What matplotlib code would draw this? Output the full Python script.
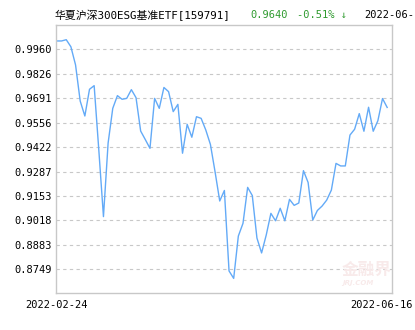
#!/usr/bin/env python3
# -*- coding: utf-8 -*-

import matplotlib
matplotlib.use('Agg')
import matplotlib.pyplot as plt
import matplotlib.transforms as mtransforms

plt.rcParams['font.family'] = ['DejaVu Sans Mono', 'Noto Sans CJK SC']

fund_name = '华夏沪深300ESG基准ETF[159791]'
last_price = '0.9640'
last_change = '-0.51% ↓'
last_date = '2022-06-1'
date_labels = ['2022-02-24', '2022-06-16']

# net value per trading day
nav = [1.0006, 1.0006, 1.0013, 0.9974, 0.9874, 0.9675, 0.9593, 0.9740,
       0.9760, 0.9406, 0.9039, 0.9444, 0.9635, 0.9705, 0.9685, 0.9690,
       0.9738, 0.9694, 0.9510, 0.9463, 0.9415, 0.9690, 0.9635, 0.9750,
       0.9727, 0.9617, 0.9657, 0.9388, 0.9547, 0.9476, 0.9589, 0.9580,
       0.9516, 0.9436, 0.9285, 0.9125, 0.9183, 0.8740, 0.8699, 0.8932,
       0.9002, 0.9200, 0.9155, 0.8921, 0.8839, 0.8938, 0.9057, 0.9016,
       0.9085, 0.9016, 0.9134, 0.9101, 0.9114, 0.9292, 0.9227, 0.9020,
       0.9073, 0.9097, 0.9130, 0.9185, 0.9332, 0.9318, 0.9318, 0.9488,
       0.9520, 0.9606, 0.9509, 0.9641, 0.9509, 0.9567, 0.9689, 0.9640]

y_ticks = [0.9960, 0.9826, 0.9691, 0.9556, 0.9422, 0.9287, 0.9153,
           0.9018, 0.8883, 0.8749]

fig = plt.figure(figsize=(4.15, 3.3), dpi=100)
ax = fig.add_axes([0.1361, 0.1121, 0.8085, 0.8121])

ax.plot(range(len(nav)), nav, color='#63aaf7', linewidth=1.0)

ax.set_xlim(-0.1, len(nav) - 1 + 1.04)
ax.set_ylim(0.86185, 1.00938)

ax.set_yticks(y_ticks)
ax.set_yticklabels(['{:.4f}'.format(v) for v in y_ticks])
ax.set_xticks([0, len(nav) - 1])
ax.set_xticklabels(date_labels)
ax.tick_params(length=0, labelsize=7.5, colors='black', pad=3)
ax.tick_params(axis='x', pad=5)

# last date label sits a bit to the left, like the original
shift = mtransforms.ScaledTranslation(-6 / 100, 0, fig.dpi_scale_trans)
lbl = ax.get_xticklabels()[-1]
lbl.set_transform(lbl.get_transform() + shift)

ax.grid(axis='y', color='#c8c8c8', linestyle=(0, (3, 3)), linewidth=0.8)
ax.grid(axis='x', visible=False)
for sp in ax.spines.values():
    sp.set_color('#c8c8c8')
    sp.set_linewidth(1.0)

# header line
fig.text(55 / 415, 1 - 15 / 330, fund_name, fontsize=7.8, va='center', ha='left', color='black')
fig.text(250 / 415, 1 - 15 / 330, last_price, fontsize=7.5, va='center', ha='left', color='#2e9a2e')
fig.text(297 / 415, 1 - 15 / 330, last_change, fontsize=7.5, va='center', ha='left', color='#2e9a2e')
fig.text(364 / 415, 1 - 15 / 330, last_date, fontsize=7.5, va='center', ha='left', color='black')

# faint watermark
fig.text(367 / 415, 1 - 270 / 330, '金融界', fontsize=12, ha='center', va='center',
         color='#f8eaea', family=['Noto Sans CJK SC'], fontweight='bold')
fig.text(358 / 415, 1 - 283 / 330, 'JRJ.COM', fontsize=5, ha='center', va='center',
         color='#f8eaea', family=['DejaVu Sans'], style='italic', fontweight='bold')

plt.savefig('out.png', dpi=100)
